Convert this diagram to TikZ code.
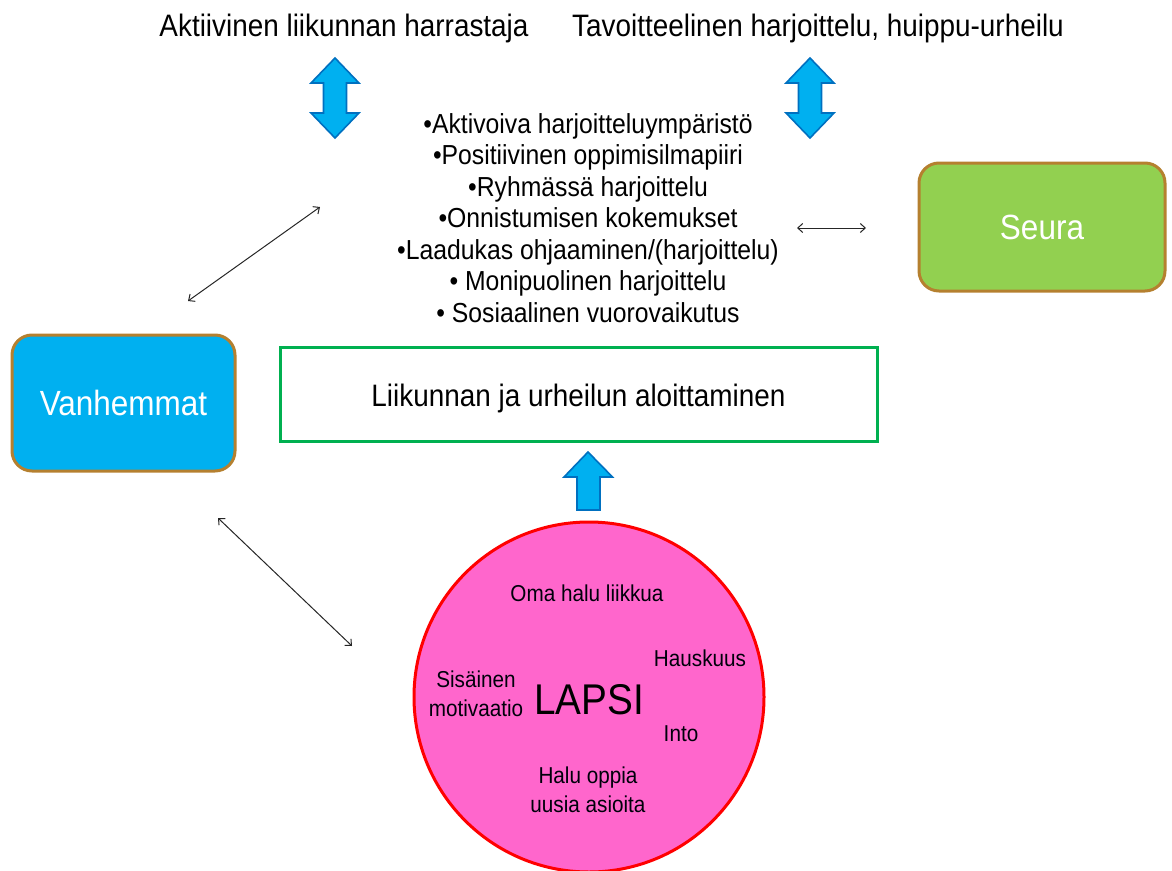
\documentclass[tikz,border=0pt]{standalone}
\usepackage{fontspec}
\setmainfont{Liberation Sans}[FakeStretch=0.9]
\usetikzlibrary{arrows.meta}
\definecolor{blockfill}{HTML}{00B0F0}
\definecolor{blockline}{HTML}{0070C0}
\definecolor{boxbrown}{HTML}{B5802F}
\definecolor{seuragreen}{HTML}{92D050}
\definecolor{framegreen}{HTML}{00B050}
\definecolor{lapsipink}{HTML}{FF66CC}
\tikzset{
  blockarrow/.style={fill=blockfill, draw=blockline, line width=1.6pt, line join=miter},
  roundbox/.style={draw=boxbrown, line width=3pt, rounded corners=20pt, inner sep=0pt, text=white, font=\fontsize{35}{40}\selectfont},
  thinarrow/.style={draw=black!85, line width=1pt, {Straight Barb[length=5pt,width=9pt]}-{Straight Barb[length=5pt,width=9pt]}},
  toptext/.style={font=\fontsize{31}{36}\selectfont, inner sep=0pt},
  circtext/.style={font=\fontsize{23}{29}\selectfont, inner sep=0pt, align=center, text=black!85!blue!30!black},
}
\begin{document}
\begin{tikzpicture}[x=1pt,y=-1pt]
\useasboundingbox (0,0) rectangle (1172,870);
% top texts
\node[toptext] (t1) at (344,28) {Aktiivinen liikunnan harrastaja};
\node[toptext] (t2) at (818,28) {Tavoitteelinen harjoittelu, huippu-urheilu};
% double block arrows
\foreach \cx in {335,810}{
  \path[blockarrow] (\cx,58) -- (\cx+24,83) -- (\cx+11.5,83) -- (\cx+11.5,113) -- (\cx+24,113)
    -- (\cx,138) -- (\cx-24,113) -- (\cx-11.5,113) -- (\cx-11.5,83) -- (\cx-24,83) -- cycle;
}
% bullet list
\node[font=\fontsize{27.5}{31.5}\selectfont, align=center, inner sep=0pt] (list) at (588,218) {%
•Aktivoiva harjoitteluympäristö\\
•Positiivinen oppimisilmapiiri\\
•Ryhmässä harjoittelu\\
•Onnistumisen kokemukset\\
•Laadukas ohjaaminen/(harjoittelu)\\
• Monipuolinen harjoittelu\\
• Sosiaalinen vuorovaikutus};
% boxes
\node[roundbox, fill=seuragreen, minimum width=246pt, minimum height=128pt] (seura) at (1042,227) {Seura};
\node[roundbox, fill=blockfill, minimum width=223pt, minimum height=136pt] (vanh) at (123.5,403) {Vanhemmat};
\node[draw=framegreen, line width=3pt, minimum width=597pt, minimum height=94pt, inner sep=0pt] (start) at (578.5,394) {};
\node[font=\fontsize{31}{36}\selectfont, inner sep=0pt] (startlabel) at (578.5,398) {Liikunnan ja urheilun aloittaminen};
% circle
\node[circle, draw=red, line width=3pt, fill=lapsipink, minimum size=350pt, inner sep=0pt] (lapsi) at (589,697) {};
\node[font=\fontsize{43}{48}\selectfont, inner sep=0pt] (lapsilabel) at (589,700) {LAPSI};
\node[circtext] (oma) at (587,593) {Oma halu liikkua};
\node[circtext] (hausk) at (700,658) {Hauskuus};
\node[circtext] (sisa) at (476,694) {Sisäinen\\motivaatio};
\node[circtext] (into) at (681,734) {Into};
\node[circtext] (halu) at (588,790) {Halu oppia\\uusia asioita};
% up block arrow
\path[blockarrow] (588,452) -- (612.5,477) -- (600,477) -- (600,510) -- (577,510) -- (577,477) -- (564,477) -- cycle;
% thin double arrows
\coordinate (a1) at (188,301);
\coordinate (a2) at (320,207);
\coordinate (b1) at (797,228);
\coordinate (b2) at (866,228);
\coordinate (c1) at (218,518);
\coordinate (c2) at (352,646);
\draw[thinarrow] (a1) -- (a2);
\draw[thinarrow] (b1) -- (b2);
\draw[thinarrow] (c1) -- (c2);
\end{tikzpicture}
\end{document}
